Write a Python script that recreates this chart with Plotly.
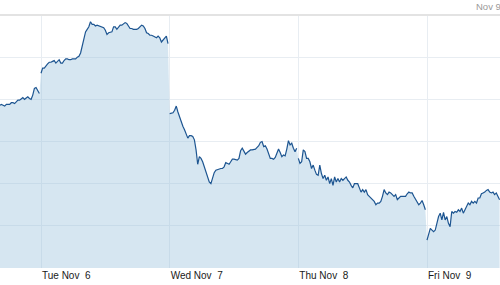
import plotly.graph_objects as go

# Intraday 5-minute closes (78 bars per session); Monday shows only the last bars
mon_prices = [31.93, 31.94, 31.93, 31.92, 31.94, 31.94, 31.94, 31.96, 31.96, 31.95,
              31.97, 31.99, 31.99, 32.00, 32.02, 32.00, 32.02, 32.03, 32.01, 32.00,
              32.05, 32.13, 32.14, 32.11, 32.07]
tue_prices = [32.31, 32.37, 32.37, 32.40, 32.42, 32.44, 32.44, 32.45, 32.46, 32.43,
              32.45, 32.47, 32.43, 32.43, 32.46, 32.48, 32.48, 32.47, 32.47, 32.48,
              32.48, 32.48, 32.50, 32.51, 32.55, 32.63, 32.73, 32.80, 32.83, 32.86,
              32.92, 32.89, 32.89, 32.87, 32.88, 32.87, 32.86, 32.86, 32.85, 32.82,
              32.77, 32.79, 32.80, 32.80, 32.86, 32.86, 32.83, 32.86, 32.88, 32.88,
              32.90, 32.91, 32.90, 32.86, 32.84, 32.84, 32.83, 32.83, 32.83, 32.84,
              32.86, 32.88, 32.87, 32.84, 32.79, 32.78, 32.76, 32.76, 32.75, 32.74,
              32.73, 32.75, 32.73, 32.68, 32.70, 32.72, 32.75, 32.66]
wed_prices = [31.83, 31.84, 31.84, 31.87, 31.92, 31.85, 31.79, 31.72, 31.68, 31.64,
              31.58, 31.54, 31.57, 31.57, 31.56, 31.52, 31.40, 31.23, 31.32, 31.30,
              31.26, 31.20, 31.15, 31.09, 31.02, 31.00, 31.08, 31.13, 31.16, 31.17,
              31.18, 31.18, 31.18, 31.20, 31.25, 31.24, 31.23, 31.26, 31.29, 31.29,
              31.28, 31.28, 31.30, 31.39, 31.42, 31.38, 31.35, 31.37, 31.39, 31.40,
              31.40, 31.41, 31.41, 31.43, 31.45, 31.49, 31.50, 31.44, 31.45, 31.41,
              31.36, 31.30, 31.30, 31.29, 31.31, 31.37, 31.41, 31.37, 31.32, 31.34,
              31.33, 31.41, 31.51, 31.46, 31.48, 31.42, 31.38, 31.42]
thu_prices = [31.30, 31.24, 31.26, 31.40, 31.38, 31.30, 31.30, 31.26, 31.18, 31.22,
              31.16, 31.11, 31.10, 31.22, 31.12, 31.06, 31.10, 31.04, 31.08, 31.00,
              31.06, 30.98, 31.08, 31.02, 31.06, 31.02, 31.06, 31.04, 31.06, 31.08,
              31.04, 31.02, 30.98, 30.95, 31.00, 31.00, 31.00, 30.95, 30.90, 30.93,
              30.90, 30.93, 30.87, 30.85, 30.83, 30.81, 30.79, 30.75, 30.77, 30.77,
              30.79, 30.85, 30.93, 30.89, 30.87, 30.90, 30.89, 30.87, 30.85, 30.87,
              30.81, 30.83, 30.85, 30.85, 30.85, 30.85, 30.88, 30.90, 30.89, 30.89,
              30.85, 30.81, 30.79, 30.75, 30.77, 30.80, 30.75, 30.69]
fri_prices = [30.33, 30.39, 30.47, 30.45, 30.43, 30.45, 30.55, 30.61, 30.65, 30.57,
              30.66, 30.57, 30.61, 30.53, 30.49, 30.67, 30.65, 30.67, 30.66, 30.69,
              30.67, 30.71, 30.65, 30.69, 30.73, 30.77, 30.75, 30.79, 30.77, 30.79,
              30.77, 30.83, 30.83, 30.88, 30.89, 30.90, 30.92, 30.93, 30.90, 30.89,
              30.90, 30.87, 30.89, 30.85, 30.81]

day_ticks = [1, 2, 3, 4]
tick_labels = ["Tue Nov\u00a0\u00a06", "Wed Nov\u00a0\u00a07", "Thu Nov\u00a0\u00a08", "Fri Nov\u00a0\u00a09"]
corner_label = "Nov 9"
BARS_PER_DAY = 78

sessions = [
    (0, BARS_PER_DAY - len(mon_prices), mon_prices),
    (1, 0, tue_prices),
    (2, 0, wed_prices),
    (3, 0, thu_prices),
    (4, 0, fri_prices),
]

fill_x, fill_y, line_x, line_y = [], [], [], []
for day, start, prices in sessions:
    xs = [day + (start + i) / BARS_PER_DAY for i in range(len(prices))]
    fill_x += xs
    fill_y += prices
    line_x += xs + [None]
    line_y += prices + [None]

fig = go.Figure()
fig.add_trace(go.Scatter(x=fill_x, y=fill_y, mode="lines", fill="tozeroy",
                         fillcolor="rgba(153,193,220,0.4)",
                         line=dict(width=0, color="rgba(0,0,0,0)"),
                         hoverinfo="skip", showlegend=False))
fig.add_trace(go.Scatter(x=line_x, y=line_y, mode="lines", connectgaps=False,
                         line=dict(color="#1d5591", width=1.2),
                         showlegend=False))

grid = "#e8edf2"
fig.update_layout(
    width=500, height=285,
    margin=dict(l=0, r=0, t=15, b=17),
    paper_bgcolor="white", plot_bgcolor="white",
    showlegend=False,
    xaxis=dict(range=[1 - 41 / 128.67, 1 + 459 / 128.67], tickvals=day_ticks,
               ticktext=tick_labels, showgrid=True, gridcolor=grid, gridwidth=1,
               zeroline=False, showline=False, ticks="",
               ticklabelposition="outside right", ticklabelshift=1,
               tickfont=dict(family="Arial, Liberation Sans, sans-serif", size=10, color="#1a1a1a")),
    yaxis=dict(range=[30, 33], dtick=0.5, showgrid=True, gridcolor=grid, gridwidth=1,
               zeroline=False, showline=False, showticklabels=False, ticks=""),
    shapes=[dict(type="line", xref="paper", yref="paper", x0=0, x1=1, y0=1, y1=1,
                 line=dict(color="#e3e3e3", width=2))],
    annotations=[dict(text=corner_label, xref="paper", yref="paper", x=1.0, y=1,
                      xanchor="right", yanchor="bottom", yshift=1, xshift=3, showarrow=False,
                      font=dict(family="Arial, Liberation Sans, sans-serif", size=9.5, color="#9a9a9a"))],
)

fig.write_html("out.html")
